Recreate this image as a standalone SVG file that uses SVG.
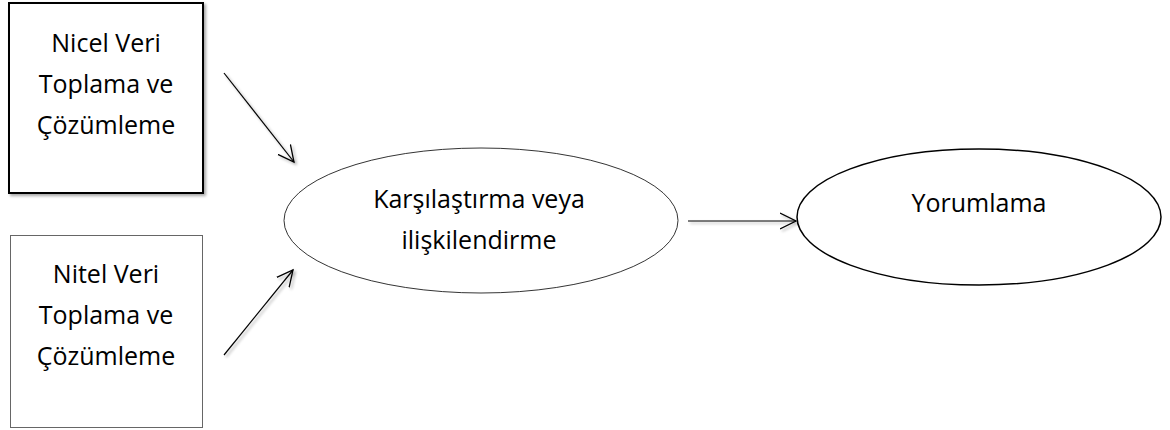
<svg xmlns="http://www.w3.org/2000/svg" width="1170" height="430" viewBox="0 0 1170 430">
<style>
text{font-family:"Open Sans","Liberation Sans",sans-serif;font-size:25px;fill:#000;text-anchor:middle}
.conn{stroke:#000;stroke-width:1.2;fill:none;marker-end:url(#arr)}
</style>
<defs>
<marker id="arr" markerUnits="userSpaceOnUse" markerWidth="20" markerHeight="20" refX="16" refY="8" orient="auto" viewBox="0 0 20 16">
<path d="M0,0 L16,8 L0,16" fill="none" stroke="#000" stroke-width="1.3"/>
</marker>
<filter id="sh" x="-10%" y="-10%" width="130%" height="130%">
<feGaussianBlur in="SourceAlpha" stdDeviation="1.5"/>
<feOffset dx="1.5" dy="2" result="b"/>
<feComponentTransfer><feFuncA type="linear" slope="0.35"/></feComponentTransfer>
<feMerge><feMergeNode/><feMergeNode in="SourceGraphic"/></feMerge>
</filter>
</defs>
<rect width="1170" height="430" fill="#fff"/>
<g id="nicel">
<rect x="9" y="3" width="194" height="190" fill="#fff" stroke="#000" stroke-width="2" filter="url(#sh)"/>
<text x="106" y="52">Nicel Veri</text>
<text x="106" y="93">Toplama ve</text>
<text x="106" y="134">Çözümleme</text>
</g>
<g id="nitel">
<rect x="10.5" y="235.5" width="192" height="192" fill="#fff" stroke="#666" stroke-width="1"/>
<text x="106" y="283">Nitel Veri</text>
<text x="106" y="324">Toplama ve</text>
<text x="106" y="365">Çözümleme</text>
</g>
<g id="karsilastirma">
<ellipse cx="481" cy="220.5" rx="197" ry="72.5" fill="#fff" stroke="#000" stroke-width="0.8"/>
<text x="479" y="208">Karşılaştırma veya</text>
<text x="479" y="249">ilişkilendirme</text>
</g>
<g id="yorumlama">
<ellipse cx="979" cy="217" rx="182" ry="68" fill="#fff" stroke="#000" stroke-width="1.5"/>
<text x="979" y="212">Yorumlama</text>
</g>
<g id="connectors" filter="url(#sh)">
<line class="conn" x1="224" y1="73" x2="294" y2="162"/>
<line class="conn" x1="224" y1="355" x2="293" y2="270"/>
<line class="conn" x1="688" y1="221" x2="796" y2="221"/>
</g>
</svg>
